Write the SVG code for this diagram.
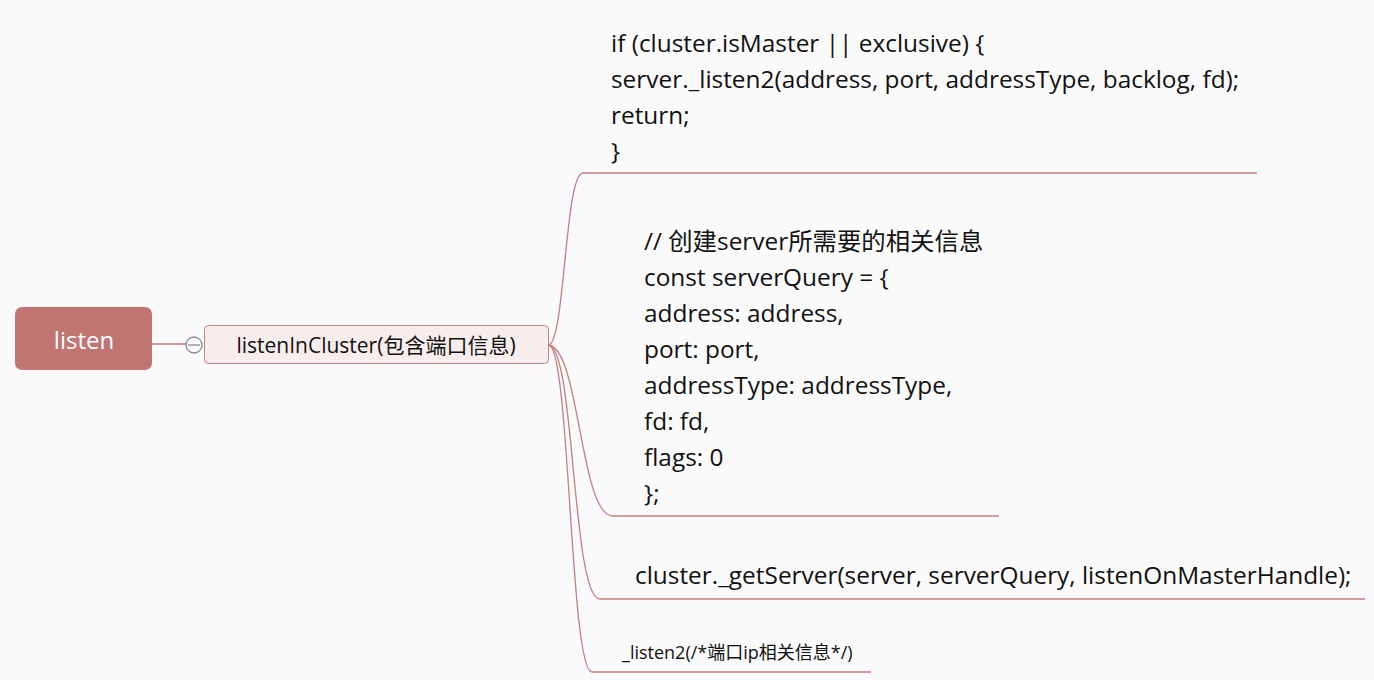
<svg xmlns="http://www.w3.org/2000/svg" width="1374" height="680" viewBox="0 0 1374 680">
<style>
text{font-family:"Open Sans","Noto Sans CJK SC",sans-serif;fill:#111}
.code{font-size:24.4px}
.conn{fill:none;stroke:#c47f7f;stroke-width:1.3}
</style>
<rect width="1374" height="680" fill="#fafafa"/>
<g id="connectors">
<path class="conn" d="M152,344 H186"/>
<path class="conn" d="M549,345 C565,340 565,173 583,173 H1257"/>
<path class="conn" d="M549,345 C580,350 580,516 613,516 H999"/>
<path class="conn" d="M549,345 C575,350 572,599 600,599 H1365"/>
<path class="conn" d="M549,345 C570,350 570,672 592,672 H871"/>
</g>
<g id="listen">
<rect x="15" y="307" width="137" height="63" rx="7" fill="#c07572"/>
<text x="84" y="349" text-anchor="middle" style="font-size:24px;fill:#fff">listen</text>
</g>
<g id="collapse">
<circle cx="194" cy="345" r="8" fill="#fafafa" stroke="#888" stroke-width="1.3"/>
<path d="M188,345 H200" stroke="#888" stroke-width="1.3"/>
</g>
<g id="listenInCluster">
<rect x="204.5" y="325.5" width="344" height="38" rx="4" fill="#f7eded" stroke="#c88080"/>
<text x="376" y="353" text-anchor="middle" style="font-size:21px">listenInCluster(包含端口信息)</text>
</g>
<g id="block1">
<text class="code" x="611" y="52">if (cluster.isMaster || exclusive) {</text>
<text class="code" x="611" y="88">server._listen2(address, port, addressType, backlog, fd);</text>
<text class="code" x="611" y="124">return;</text>
<text class="code" x="611" y="160">}</text>
</g>
<g id="block2">
<text class="code" x="644" y="250">// 创建server所需要的相关信息</text>
<text class="code" x="644" y="286">const serverQuery = {</text>
<text class="code" x="644" y="322">address: address,</text>
<text class="code" x="644" y="358">port: port,</text>
<text class="code" x="644" y="394">addressType: addressType,</text>
<text class="code" x="644" y="430">fd: fd,</text>
<text class="code" x="644" y="466">flags: 0</text>
<text class="code" x="644" y="502">};</text>
</g>
<g id="block3">
<text class="code" x="635" y="584">cluster._getServer(server, serverQuery, listenOnMasterHandle);</text>
</g>
<g id="block4">
<text x="622" y="659" style="font-size:18px">_listen2(/*端口ip相关信息*/)</text>
</g>
</svg>
